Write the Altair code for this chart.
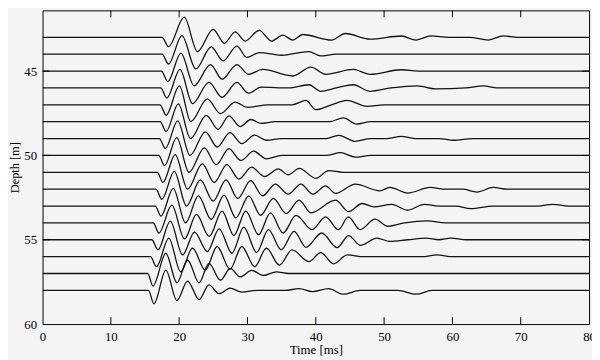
import altair as alt
import pandas as pd

# ---- data (time in ms, amplitude in m, +up) ----
DEPTHS = [43, 44, 45, 46, 47, 48, 49, 50, 51, 52, 53, 54, 55, 56, 57, 58]

T43_TIME = [0, 17.5, 18.44, 20.75, 22.67, 24.98, 26.61, 28.20, 29.65, 31.73, 33.50, 35.19, 36.64, 38.08, 42.31, 44.33, 47.94, 52.52, 54.69, 56.85, 59.5, 62.5, 65.27, 67.44, 69.6, 80]
T43_AMP = [0, 0, -0.55, 1.20, -0.84, 0.48, -0.35, 0.33, -0.22, 0.42, -0.22, 0.13, -0.16, 0.17, -0.16, 0.23, -0.10, 0.08, -0.16, 0.09, 0.0, 0.0, -0.16, 0.09, 0, 0]

T44_TIME = [0, 17.5, 18.44, 20.40, 22.43, 24.69, 26.43, 28.45, 29.89, 31.77, 34.95, 38.99, 40.72, 43.0, 80]
T44_AMP = [0, 0, -0.58, 1.10, -0.87, 0.43, -0.39, 0.48, -0.19, 0.10, -0.06, 0.16, -0.10, 0, 0]

T45_TIME = [0, 17.4, 18.34, 20.26, 22.19, 24.59, 26.28, 28.45, 30.14, 32.2, 36.64, 39.28, 41.44, 45.49, 47.94, 52.52, 55.0, 80]
T45_AMP = [0, 0, -0.62, 1.07, -0.87, 0.39, -0.48, 0.39, -0.19, 0.10, -0.29, 0.23, -0.19, 0.10, -0.19, 0.08, 0, 0]

T46_TIME = [0, 17.3, 18.19, 20.12, 21.95, 24.36, 26.28, 28.45, 30.14, 32.0, 36.0, 38.99, 40.72, 43.0, 45.49, 47.94, 51.0, 54.87, 57.5, 62.0, 64.55, 66.5, 80]
T46_AMP = [0, 0, -0.60, 1.10, -0.93, 0.33, -0.55, 0.33, -0.31, 0.05, 0.0, 0.19, -0.20, 0.0, 0.19, -0.20, 0.0, 0.13, -0.05, 0.0, 0.13, 0, 0]

T47_TIME = [0, 17.2, 18.09, 20.03, 21.70, 24.12, 26.04, 28.20, 30.0, 33.0, 36.5, 38.56, 40.0, 42.3, 44.57, 47.5, 50.0, 80]
T47_AMP = [0, 0, -0.62, 1.13, -0.99, 0.35, -0.52, 0.16, -0.15, 0.0, 0.0, 0.26, -0.29, 0.0, 0.26, -0.09, 0, 0]

T48_TIME = [0, 17.2, 18.09, 19.88, 21.66, 23.97, 25.7, 27.3, 28.9, 30.5, 32.0, 34.0, 42.0, 44.04, 46.02, 48.0, 80]
T48_AMP = [0, 0, -0.58, 1.06, -1.0, 0.38, -0.45, 0.35, -0.29, 0.13, -0.1, 0, 0, 0.23, -0.14, 0, 0]

T49_TIME = [0, 17.1, 17.98, 19.78, 21.59, 23.83, 25.56, 27.44, 29.17, 31.05, 32.78, 35.0, 41.5, 43.36, 45.78, 48.0, 50.5, 52.52, 54.5, 58.0, 60.22, 63.0, 80]
T49_AMP = [0, 0, -0.58, 1.05, -1.0, 0.4, -0.5, 0.35, -0.3, 0.2, -0.1, 0, 0, 0.19, -0.17, 0, 0, 0.13, 0, 0, -0.1, 0, 0]

T50_TIME = [0, 17.0, 17.86, 19.64, 21.44, 23.68, 25.42, 27.29, 29.03, 30.90, 32.78, 35.0, 41.5, 43.61, 45.78, 48.0, 80]
T50_AMP = [0, 0, -0.6, 1.05, -1.0, 0.45, -0.55, 0.4, -0.3, 0.25, -0.2, 0, 0, 0.16, -0.1, 0, 0]

T51_TIME = [0, 16.8, 17.62, 19.42, 21.23, 23.39, 25.13, 27.0, 28.74, 30.61, 32.49, 34.51, 35.96, 37.59, 40.0, 41.88, 44.0, 80]
T51_AMP = [0, 0, -0.6, 1.05, -1.0, 0.5, -0.6, 0.45, -0.4, 0.3, -0.25, 0.2, -0.15, 0.23, -0.36, 0.1, 0, 0]

T52_TIME = [0, 16.6, 17.47, 19.28, 21.08, 23.10, 24.98, 26.86, 28.59, 30.47, 32.20, 34.08, 35.96, 37.83, 39.57, 41.44, 42.89, 45.78, 49.39, 50.83, 53.47, 56.75, 59.0, 61.5, 63.58, 65.99, 68.0, 80]
T52_AMP = [0, 0, -0.6, 1.05, -1.0, 0.55, -0.7, 0.55, -0.55, 0.5, -0.4, 0.3, -0.3, 0.3, -0.3, 0.2, -0.25, 0.3, -0.1, 0.1, -0.23, 0.1, 0, 0, -0.17, 0.1, 0, 0]

T53_TIME = [0, 16.5, 17.33, 19.13, 20.94, 22.82, 24.69, 26.57, 28.30, 30.18, 31.91, 33.79, 35.67, 37.55, 39.28, 42.89, 44.81, 46.79, 48.5, 51.12, 53.43, 55.88, 58.0, 60.5, 62.67, 66.0, 72.5, 74.66, 77.0, 80]
T53_AMP = [0, 0, -0.6, 1.05, -1.0, 0.6, -0.8, 0.65, -0.7, 0.6, -0.55, 0.45, -0.45, 0.35, -0.4, 0.35, -0.33, 0.15, -0.05, 0.1, -0.25, 0.1, 0, 0, -0.15, 0.0, 0.0, 0.1, 0, 0]

T54_TIME = [0, 16.2, 17.04, 18.92, 20.79, 22.53, 24.40, 26.28, 28.01, 29.75, 31.62, 33.36, 35.23, 37.11, 39.42, 41.44, 43.32, 44.77, 46.50, 48.66, 50.54, 53.0, 56.32, 59.0, 80]
T54_AMP = [0, 0, -0.6, 1.05, -0.95, 0.5, -0.8, 0.7, -0.75, 0.7, -0.7, 0.6, -0.6, 0.45, -0.4, 0.35, -0.4, 0.35, -0.4, 0.22, -0.2, 0, 0.12, 0, 0]

T55_TIME = [0, 16.0, 16.90, 18.70, 20.51, 22.24, 24.12, 25.85, 27.73, 29.46, 31.34, 33.07, 34.95, 36.82, 38.56, 40.87, 43.13, 44.81, 46.50, 48.95, 50.83, 53.5, 56.17, 58.0, 59.78, 62.0, 80]
T55_AMP = [0, 0, -0.6, 1.1, -0.9, 0.45, -0.7, 0.65, -0.8, 0.75, -0.75, 0.6, -0.6, 0.5, -0.45, 0.4, -0.47, 0.25, -0.33, 0.1, -0.1, 0, 0.1, 0, 0.1, 0, 0]

T56_TIME = [0, 15.8, 16.68, 18.48, 20.22, 21.95, 23.83, 25.56, 27.44, 29.17, 31.05, 32.78, 34.66, 36.53, 38.99, 40.72, 42.60, 44.62, 47.0, 55.5, 57.76, 60.0, 80]
T56_AMP = [0, 0, -0.6, 1.1, -0.9, 0.5, -0.8, 0.6, -0.75, 0.6, -0.6, 0.5, -0.5, 0.4, -0.3, 0.24, -0.43, 0.1, 0, 0, 0.1, 0, 0]

T57_TIME = [0, 15.4, 16.17, 18.05, 19.68, 21.23, 22.92, 24.36, 26.04, 27.48, 28.92, 30.61, 32.35, 34.22, 36.0, 80]
T57_AMP = [0, 0, -0.75, 1.2, -0.55, 0.8, -0.55, 0.6, -0.4, 0.3, -0.2, 0.18, -0.12, 0.1, 0, 0]

T58_TIME = [0, 15.5, 16.32, 18.05, 19.68, 21.23, 22.92, 24.36, 25.85, 27.44, 29.17, 31.5, 35.5, 37.59, 39.5, 41.88, 44.04, 46.5, 52.0, 54.69, 57.0, 80]
T58_AMP = [0, 0, -0.8, 1.2, -0.6, 0.55, -0.55, 0.32, -0.2, 0.13, -0.1, 0, 0, 0.1, -0.08, 0.1, -0.23, 0, 0, -0.23, 0, 0]

X_LABELS = [0, 10, 20, 30, 40, 50, 60, 70, 80]
X_INNER_TICKS = [10, 20, 30, 40, 50, 60, 70]
Y_LABELS = [45, 50, 55, 60]
Y_INNER_TICKS = [45, 50, 55]

TRACES = [
    (43, T43_TIME, T43_AMP), (44, T44_TIME, T44_AMP), (45, T45_TIME, T45_AMP),
    (46, T46_TIME, T46_AMP), (47, T47_TIME, T47_AMP), (48, T48_TIME, T48_AMP),
    (49, T49_TIME, T49_AMP), (50, T50_TIME, T50_AMP), (51, T51_TIME, T51_AMP),
    (52, T52_TIME, T52_AMP), (53, T53_TIME, T53_AMP), (54, T54_TIME, T54_AMP),
    (55, T55_TIME, T55_AMP), (56, T56_TIME, T56_AMP), (57, T57_TIME, T57_AMP),
    (58, T58_TIME, T58_AMP),
]

rows = []
for d, ts, amps in TRACES:
    for i, (t, a) in enumerate(zip(ts, amps)):
        rows.append({"trace": d, "time": t, "depth": d - a, "order": i})
df = pd.DataFrame(rows)

tick_x = pd.DataFrame({"time": X_INNER_TICKS})
tick_y = pd.DataFrame({"depth": Y_INNER_TICKS})

FONT = "Liberation Serif"
W, H = 554, 318

X = alt.X("time:Q",
          scale=alt.Scale(domain=[0, 80], nice=False, zero=False),
          axis=alt.Axis(values=X_LABELS, title="Time [ms]", grid=False, ticks=False,
                        domain=False, labelPadding=7, titlePadding=0,
                        labelFont=FONT, titleFont=FONT, labelFontSize=13,
                        titleFontSize=13, titleFontWeight="normal",
                        labelColor="#000", titleColor="#000", labelFlush=False))
Y = alt.Y("depth:Q",
          scale=alt.Scale(domain=[41.4, 60], reverse=True, nice=False, zero=False),
          axis=alt.Axis(values=Y_LABELS, title="Depth [m]", grid=False, ticks=False,
                        domain=False, labelPadding=6, titlePadding=2,
                        labelFont=FONT, titleFont=FONT, labelFontSize=13,
                        titleFontSize=12.5, titleFontWeight="normal",
                        labelColor="#000", titleColor="#000", labelFlush=False))

lines = alt.Chart(df).mark_line(
    interpolate="monotone", color="#111111", strokeWidth=1.3, clip=True
).encode(x=X, y=Y, detail="trace:N", order="order:Q")

top_ticks = alt.Chart(tick_x).mark_rule(color="#000", strokeWidth=1).encode(
    x=X, y=alt.value(0), y2=alt.value(7))
bottom_ticks = alt.Chart(tick_x).mark_rule(color="#000", strokeWidth=1).encode(
    x=X, y=alt.value(H), y2=alt.value(H - 7))
left_ticks = alt.Chart(tick_y).mark_rule(color="#000", strokeWidth=1).encode(
    y=Y, x=alt.value(0), x2=alt.value(7))
right_ticks = alt.Chart(tick_y).mark_rule(color="#000", strokeWidth=1).encode(
    y=Y, x=alt.value(W), x2=alt.value(W - 7))

chart = alt.layer(lines, top_ticks, bottom_ticks, left_ticks, right_ticks).properties(
    width=W, height=H,
    padding={"left": 35, "top": 0, "right": 3, "bottom": 34},
    autosize=alt.AutoSizeParams(type="none"),
    background="#f4f4f4",
).configure_view(stroke="#000", strokeWidth=1, fill="#f4f4f4")

chart.save("out.html", embed_options={"renderer": "svg", "actions": False})
